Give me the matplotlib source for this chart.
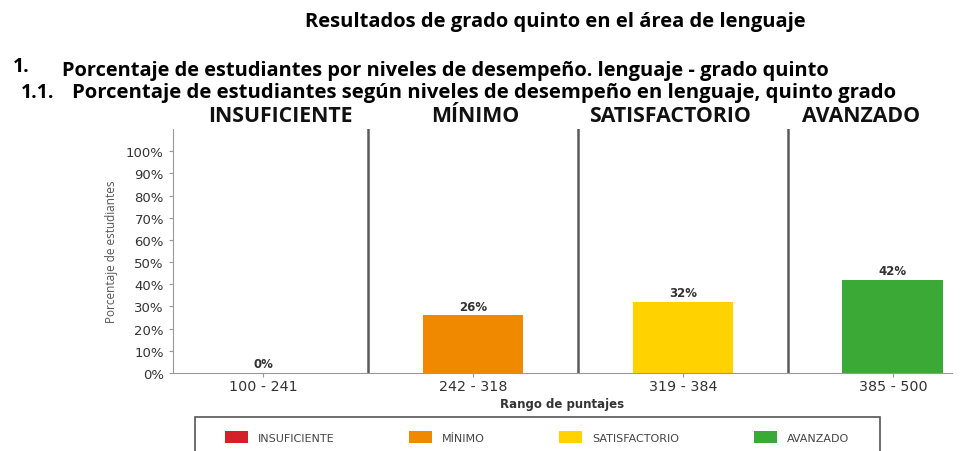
import matplotlib.pyplot as plt
import numpy as np
from matplotlib.patches import Patch, Rectangle

niveles = ['INSUFICIENTE', 'MÍNIMO', 'SATISFACTORIO', 'AVANZADO']
rangos = ['100 - 241', '242 - 318', '319 - 384', '385 - 500']
porcentajes = [0, 26, 32, 42]
colores = ['#d42027', '#f08800', '#ffd200', '#3aa935']

plt.rcParams['font.family'] = ['Open Sans', 'DejaVu Sans']

fig = plt.figure(figsize=(9.77, 4.52), dpi=100)
ax = fig.add_axes([0.177, 0.1726, 0.797, 0.5398])

x = np.arange(len(niveles))
ax.bar(x, porcentajes, width=0.48, color=colores)
for xi, v in zip(x, porcentajes):
    ax.text(xi, v + 1.2, '%d%%' % v, ha='center', va='bottom', family='DejaVu Sans',
            fontsize=8.5, fontweight='bold', color='#333333')

# separadores entre niveles
for xd in x[:-1] + 0.5:
    ax.axvline(xd, color='#5a5a5a', lw=1.8)

ax.set_xlim(-0.43, 3.28)
ax.set_ylim(0, 110)
ax.set_yticks(np.arange(0, 101, 10))
ax.set_yticklabels(['%d%%' % t for t in range(0, 101, 10)], fontsize=9.5,
                   color='#333333', family='DejaVu Sans')
ax.set_xticks(x)
ax.set_xticklabels(rangos, fontsize=10.3, color='#333333', family='DejaVu Sans')
ax.tick_params(axis='both', length=3, color='#999999')
ax.tick_params(axis='x', pad=1.5)
for s in ['top', 'right']:
    ax.spines[s].set_visible(False)
for s in ['left', 'bottom']:
    ax.spines[s].set_color('#999999')

ax.set_ylabel('Porcentaje de estudiantes', fontsize=8.5, color='#555555', labelpad=6)
ax.set_xlabel('Rango de puntajes', fontsize=8.5, fontweight='bold', color='#333333',
              labelpad=3, family='DejaVu Sans')

# nombres de nivel sobre cada columna
pos_nombres = [0.08, 1.01, 1.94, 2.85]
for xn, n in zip(pos_nombres, niveles):
    ax.text(xn, 111.5, n, ha='center', va='bottom', fontsize=15.3,
            fontweight='bold', color='#111111')

fig.text(0.568, 0.952, 'Resultados de grado quinto en el área de lenguaje',
         ha='center', va='center', fontsize=14.5, fontweight='bold')
fig.text(0.013, 0.852, '1.', ha='left', va='center', fontsize=14, fontweight='bold')
fig.text(0.063, 0.843, 'Porcentaje de estudiantes por niveles de desempeño. lenguaje - grado quinto',
         ha='left', va='center', fontsize=14.4, fontweight='bold')
fig.text(0.021, 0.795, '1.1.', ha='left', va='center', fontsize=14, fontweight='bold')
fig.text(0.074, 0.795, 'Porcentaje de estudiantes según niveles de desempeño en lenguaje, quinto grado',
         ha='left', va='center', fontsize=14.6, fontweight='bold')

# leyenda
fig.add_artist(Rectangle((195 / 977, -0.05), 685 / 977, 1 - 418 / 452 + 0.05,
                         transform=fig.transFigure, fill=False,
                         edgecolor='#555555', lw=1.2))
handles = [Patch(facecolor=c, edgecolor='none') for c in colores]
fig.legend(handles, niveles, loc='center left', bbox_to_anchor=(225 / 977, 1 - 438 / 452),
           ncol=4, frameon=False, prop={'family': 'DejaVu Sans', 'size': 8},
           handlelength=2.07, handleheight=1.26, handletextpad=0.9, columnspacing=6.7,
           borderpad=0, borderaxespad=0, labelcolor='#444444')

fig.savefig('out.png', dpi=100)
